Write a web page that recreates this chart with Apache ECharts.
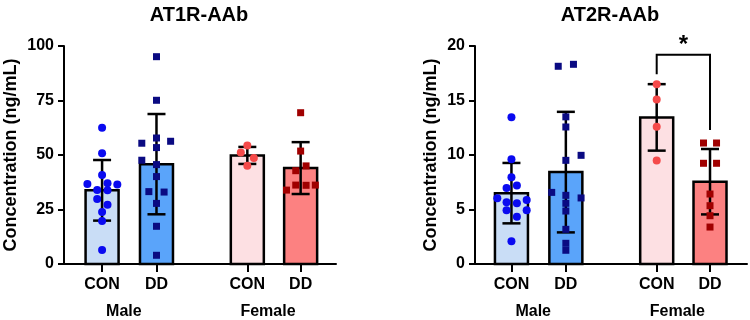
<!DOCTYPE html>
<html>
<head>
<meta charset="utf-8">
<script src="https://cdn.jsdelivr.net/npm/echarts@6/dist/echarts.min.js"></script>
<style>
html, body { margin: 0; padding: 0; background: #fff; }
#main { width: 750px; height: 320px; }
</style>
</head>
<body>
<div id="main"></div>
<script>
// bar positions on the x value axis and their labels
var xPos = [0, 1, 2.67, 3.65];
var groupNames = ['CON', 'DD', 'CON', 'DD'];
var sexNames = ['Male', 'Female'];
var sexPos = [0.4, 3.05];

var barColors = ['#c9ddf6', '#5aa4fa', '#fde0e3', '#fc8181'];
var dotColors = ['#0a0af0', '#0a0a82', '#f54a4a', '#a00000'];
var dotSymbols = ['circle', 'rect', 'circle', 'rect'];

// AT1R-AAb
var at1Title = 'AT1R-AAb';
var at1Mean = [33.8, 45.8, 49.8, 44.0];
var at1Sd = [13.9, 23.0, 3.9, 11.9];
var at1Values = [
  [62.5, 50.8, 40.8, 36.7, 37.0, 36.5, 33.9, 33.8, 29.8, 27.2, 23.9, 19.7, 6.4],
  [95.1, 75.1, 57.8, 56.3, 55.4, 53.4, 47.6, 45.6, 40.1, 33.2, 33.0, 27.8, 17.3, 4.0],
  [54.4, 51.2, 48.6, 45.1],
  [69.4, 51.8, 45.0, 42.8, 36.2, 36.1, 36.2, 33.9]
];
var at1Jitter = [
  [0, 0, 0, -0.27, 0.1, 0.28, -0.09, 0.1, -0.09, 0.1, 0, 0, 0],
  [0, 0, 0, 0.26, -0.27, 0, -0.27, 0, 0, -0.14, 0.14, 0, 0, 0],
  [0, -0.12, 0.12, 0],
  [0, 0, 0.1, -0.09, -0.09, 0.1, 0.27, -0.26]
];

// AT2R-AAb
var at2Title = 'AT2R-AAb';
var at2Mean = [6.5, 8.43, 13.45, 7.55];
var at2Sd = [2.77, 5.53, 3.05, 3.0];
var at2Values = [
  [13.46, 9.6, 7.95, 7.2, 6.97, 6.03, 5.87, 5.66, 5.57, 4.93, 4.93, 4.34, 2.08],
  [18.32, 18.14, 13.5, 12.57, 9.97, 9.51, 6.57, 6.3, 6.06, 5.57, 4.86, 3.18, 1.9, 1.26],
  [16.5, 15.1, 12.6, 9.5],
  [11.1, 11.1, 9.24, 9.24, 6.42, 5.35, 4.43, 3.39]
];
var at2Jitter = [
  [0, 0, 0, 0.1, -0.09, -0.26, 0.28, -0.09, 0.1, -0.09, 0.28, 0.1, 0],
  [0.14, -0.14, 0, 0, 0.28, 0, -0.26, 0, 0.28, 0, 0, 0, 0, 0],
  [0, 0, 0, 0],
  [-0.12, 0.12, -0.12, 0.12, 0, 0, 0, 0]
];
// significance bracket (Female CON vs DD)
var sigPair = [2, 3];
var sigTop = 19.2;
var sigLegs = [17.4, 12.3];
var sigText = '*';

var font = 'Liberation Sans, Arial, sans-serif';
var myChart = echarts.init(document.getElementById('main'));

var option = {
  animation: false,
  title: [],
  grid: [],
  xAxis: [],
  yAxis: [],
  series: []
};

function addPanel(idx, title, gridLeft, xMin, yMax, yStep, nameGap, means, sds, values, jitter) {
  option.title.push({
    text: title,
    left: gridLeft + 130,
    textAlign: 'center',
    top: 0,
    textStyle: { fontFamily: font, fontSize: 20, fontWeight: 'bold', color: '#000' }
  });
  option.grid.push({ left: gridLeft, width: 272, top: 46, height: 218 });
  option.xAxis.push({
    type: 'value', gridIndex: idx, min: xMin, max: xMin + 5, position: 'bottom',
    axisLine: { show: true, onZero: false, lineStyle: { color: '#000', width: 2 } },
    axisTick: { show: true, customValues: xPos, length: 8, lineStyle: { color: '#000', width: 2 } },
    axisLabel: {
      customValues: xPos, margin: 13, color: '#000', fontFamily: font, fontSize: 16, fontWeight: 'bold',
      formatter: function (v) {
        for (var i = 0; i < xPos.length; i++) if (Math.abs(xPos[i] - v) < 0.01) return groupNames[i];
        return '';
      }
    },
    splitLine: { show: false }
  });
  option.xAxis.push({
    type: 'value', gridIndex: idx, min: xMin, max: xMin + 5, position: 'bottom',
    axisLine: { show: false }, axisTick: { show: false },
    axisLabel: {
      customValues: sexPos, margin: 40, color: '#000', fontFamily: font, fontSize: 16, fontWeight: 'bold',
      formatter: function (v) {
        for (var i = 0; i < sexPos.length; i++) if (Math.abs(sexPos[i] - v) < 0.01) return sexNames[i];
        return '';
      }
    },
    splitLine: { show: false }
  });
  option.yAxis.push({
    type: 'value', gridIndex: idx, min: 0, max: yMax, interval: yStep,
    name: 'Concentration (ng/mL)', nameLocation: 'middle', nameGap: nameGap,
    nameTextStyle: { fontFamily: font, fontSize: 18, fontWeight: 'bold', color: '#000' },
    axisLine: { show: true, onZero: false, lineStyle: { color: '#000', width: 2 } },
    axisTick: { show: true, length: 6, lineStyle: { color: '#000', width: 2 } },
    axisLabel: { margin: 10, color: '#000', fontFamily: font, fontSize: 16, fontWeight: 'bold' },
    splitLine: { show: false }
  });

  var xi = idx * 2;
  var barData = xPos.map(function (x, i) { return [x, means[i], sds[i]]; });

  // bars
  option.series.push({
    type: 'custom', xAxisIndex: xi, yAxisIndex: idx, z: 1,
    data: barData,
    renderItem: function (params, api) {
      var x = api.value(0), m = api.value(1);
      var top = api.coord([x, m]);
      var base = api.coord([x, 0]);
      var w = 33;
      return {
        type: 'rect',
        shape: { x: top[0] - w / 2, y: top[1], width: w, height: base[1] - top[1] },
        style: { fill: barColors[params.dataIndex], stroke: '#000', lineWidth: 2.5 }
      };
    }
  });

  // error bars (mean +/- SD)
  option.series.push({
    type: 'custom', xAxisIndex: xi, yAxisIndex: idx, z: 2,
    data: barData,
    renderItem: function (params, api) {
      var x = api.value(0), m = api.value(1), s = api.value(2);
      var hi = api.coord([x, m + s]);
      var lo = api.coord([x, m - s]);
      var c = 9;
      var st = { stroke: '#000', lineWidth: 2.5 };
      return {
        type: 'group',
        children: [
          { type: 'line', shape: { x1: hi[0], y1: hi[1], x2: lo[0], y2: lo[1] }, style: st },
          { type: 'line', shape: { x1: hi[0] - c, y1: hi[1], x2: hi[0] + c, y2: hi[1] }, style: st },
          { type: 'line', shape: { x1: lo[0] - c, y1: lo[1], x2: lo[0] + c, y2: lo[1] }, style: st }
        ]
      };
    }
  });

  // individual points
  values.forEach(function (vals, g) {
    option.series.push({
      type: 'scatter', xAxisIndex: xi, yAxisIndex: idx, z: 3,
      symbol: dotSymbols[g],
      symbolSize: dotSymbols[g] === 'circle' ? 8 : 7,
      itemStyle: { color: dotColors[g], opacity: 1 },
      data: vals.map(function (v, k) { return [xPos[g] + jitter[g][k], v]; })
    });
  });
}

addPanel(0, at1Title, 64, -0.7, 100, 25, 44, at1Mean, at1Sd, at1Values, at1Jitter);
addPanel(1, at2Title, 475, -0.67, 20, 5, 35, at2Mean, at2Sd, at2Values, at2Jitter);

// significance bracket on the AT2R panel
option.series.push({
  type: 'custom', xAxisIndex: 2, yAxisIndex: 1, z: 4, clip: false,
  data: [[xPos[sigPair[0]], xPos[sigPair[1]], sigTop, sigLegs[0], sigLegs[1]]],
  renderItem: function (params, api) {
    var a = api.value(0), b = api.value(1), t = api.value(2);
    var p1 = api.coord([a, api.value(3)]);
    var p2 = api.coord([a, t]);
    var p3 = api.coord([b, t]);
    var p4 = api.coord([b, api.value(4)]);
    return {
      type: 'group',
      children: [
        { type: 'polyline', shape: { points: [p1, p2, p3, p4] }, style: { stroke: '#000', lineWidth: 2, fill: null } },
        {
          type: 'text',
          style: {
            x: (p2[0] + p3[0]) / 2, y: p2[1] + 3, text: sigText,
            fontFamily: font, fontSize: 24, fontWeight: 'bold', fill: '#000',
            align: 'center', verticalAlign: 'bottom'
          }
        }
      ]
    };
  }
});

myChart.setOption(option);
window.addEventListener('resize', function () {
  myChart.resize();
});
</script>
</body>
</html>
